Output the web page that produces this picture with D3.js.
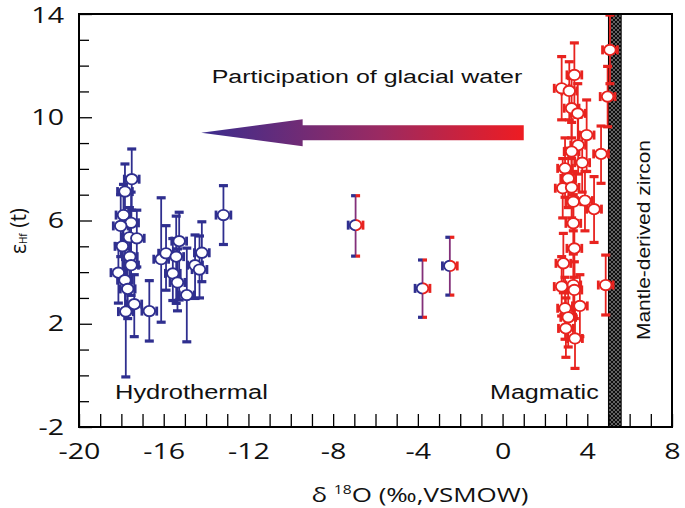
<!DOCTYPE html>
<html><head><meta charset="utf-8">
<script src="https://cdn.jsdelivr.net/npm/d3@7"></script>
<style>body{margin:0;background:#fff}</style>
</head><body>
<svg id="chart" width="685" height="508"></svg>
<script>
// ---- data: [δ18O, εHf(t), εHf low, εHf high]
const hydrothermal = [
  [-17.51, 7.60, 6.40, 8.77], [-17.83, 7.12, 6.00, 8.19], [-17.90, 6.21, 5.00, 7.40],
  [-17.54, 5.91, 4.70, 7.10], [-18.03, 5.79, 4.60, 7.00], [-17.62, 5.35, 4.20, 6.50],
  [-17.27, 5.31, 4.20, 6.40], [-17.95, 5.00, 3.80, 6.20], [-17.60, 4.60, 3.40, 5.80],
  [-17.54, 4.27, 3.10, 5.40], [-18.14, 3.98, 2.80, 5.10], [-17.83, 3.69, 2.50, 4.90],
  [-17.70, 3.35, 2.20, 4.50], [-17.39, 2.76, 1.50, 3.90], [-17.79, 2.47, -0.06, 3.70],
  [-16.68, 2.49, 1.33, 3.67], [-16.12, 4.50, 2.06, 6.88], [-15.89, 4.73, 3.30, 5.80],
  [-15.27, 5.20, 2.92, 6.32], [-15.41, 4.60, 2.79, 6.17], [-15.57, 3.95, 2.90, 5.30],
  [-15.35, 3.60, 2.50, 4.90], [-14.91, 3.11, 1.30, 4.93], [-14.52, 4.27, 2.98, 5.44],
  [-14.31, 4.10, 3.00, 5.40], [-14.20, 4.75, 3.63, 5.95], [-13.18, 6.21, 5.07, 7.35]
];
const transitional = [
  [-6.94, 5.82, 4.62, 6.96], [-3.78, 3.37, 2.25, 4.47], [-2.49, 4.24, 3.11, 5.35]
];
const magmatic = [
  [5.07, 12.61, 11.30, 13.96], [4.96, 10.80, 9.63, 11.97], [3.39, 11.64, 10.40, 12.88],
  [2.79, 11.12, 9.90, 12.35], [3.15, 11.02, 9.90, 12.15], [3.26, 10.35, 9.20, 11.50],
  [3.55, 10.15, 9.00, 11.30], [3.97, 9.31, 7.90, 10.67], [4.65, 8.58, 7.44, 9.66],
  [3.57, 8.92, 7.80, 10.00], [3.26, 8.67, 7.50, 9.80], [3.76, 8.24, 7.10, 9.40],
  [2.95, 8.02, 6.90, 9.20], [3.10, 7.63, 6.50, 8.80], [2.84, 7.25, 6.10, 8.40],
  [3.26, 7.28, 6.10, 8.40], [3.34, 6.73, 5.60, 7.90], [3.89, 6.77, 5.60, 7.90],
  [4.32, 6.44, 5.15, 7.70], [3.34, 5.89, 4.80, 7.00], [3.39, 4.92, 3.80, 6.00],
  [2.87, 4.34, 3.20, 5.50], [4.87, 3.50, 2.34, 4.66], [2.79, 3.44, 2.30, 4.60],
  [3.34, 3.50, 2.30, 4.70], [3.39, 3.31, 2.20, 4.40], [3.65, 2.69, 1.50, 3.90],
  [2.95, 2.60, 1.40, 3.80], [3.10, 2.25, 1.10, 3.40], [2.99, 1.82, 0.70, 3.00],
  [3.42, 1.43, 0.27, 2.60]
];
const xErr = 0.35;
const mantleBand = [5.0, 5.6];
const arrowX = [-14.23, -9.44, 1.0];   // tip, head base, tail
const arrowY = 9.4;
const xDomain = [-20, 8], yDomain = [-2, 14];
const xTickValues = [-20,-19,-18,-17,-16,-15,-14,-13,-12,-11,-10,-9,-8,-7,-6,-5,-4,-3,-2,-1,0,1,2,3,4,5,6,7,8];
const xTickLabels = [-20,-16,-12,-8,-4,0,4,8];
const yTickValues = [-2,-1,0,1,2,3,4,5,6,7,8,9,10,11,12,13,14];
const yTickLabels = [-2,2,6,10,14];

const BLUE = "#2f2f8f", RED = "#e8231f", PURPLE = "#83307a";
const SX = 1.3; // horizontal stretch of the reference lettering

const svg = d3.select("#chart");
const L = 79, R = 672, T = 14, B = 427;
const x = d3.scaleLinear().domain(xDomain).range([L, R]);
const y = d3.scaleLinear().domain(yDomain).range([B, T]);

const defs = svg.append("defs");
const pat = defs.append("pattern").attr("id","hatch").attr("patternUnits","userSpaceOnUse")
  .attr("width",4).attr("height",4);
pat.append("rect").attr("width",4).attr("height",4).attr("fill","#0d0d0d");
pat.append("path").attr("d","M0,0L4,4M4,0L0,4").attr("stroke","#9a9a9a").attr("stroke-width",0.6);

const arrGrad = defs.append("linearGradient").attr("id","arrGrad")
  .attr("gradientUnits","userSpaceOnUse")
  .attr("x1", x(arrowX[0])).attr("x2", x(arrowX[2])).attr("y1",0).attr("y2",0);
arrGrad.append("stop").attr("offset","0%").attr("stop-color","#3b2d8e");
arrGrad.append("stop").attr("offset","55%").attr("stop-color","#9a2a62");
arrGrad.append("stop").attr("offset","100%").attr("stop-color","#ee1c22");

const midGrad = defs.append("linearGradient").attr("id","midGrad")
  .attr("x1","0%").attr("x2","100%").attr("y1","0%").attr("y2","0%");
midGrad.append("stop").attr("offset","0%").attr("stop-color",BLUE);
midGrad.append("stop").attr("offset","45%").attr("stop-color",BLUE);
midGrad.append("stop").attr("offset","55%").attr("stop-color",RED);
midGrad.append("stop").attr("offset","100%").attr("stop-color",RED);

// mantle band
svg.append("rect").attr("x", x(mantleBand[0])).attr("y", T)
  .attr("width", x(mantleBand[1]) - x(mantleBand[0])).attr("height", B - T)
  .attr("fill","url(#hatch)").attr("stroke","#000").attr("stroke-width",1);

// arrow
const hh = 13.5, sh = 7.5, ay = y(arrowY);
svg.append("path").attr("d",
  `M${x(arrowX[0])},${ay}L${x(arrowX[1])},${ay-hh}L${x(arrowX[1])},${ay-sh}L${x(arrowX[2])},${ay-sh}` +
  `L${x(arrowX[2])},${ay+sh}L${x(arrowX[1])},${ay+sh}L${x(arrowX[1])},${ay+hh}Z`)
  .attr("fill","url(#arrGrad)");

// error bars + markers
function drawGroup(data, col, opts) {
  const g = svg.append("g");
  const lineCol = opts.line || col;
  const capFill = opts.cap || col;
  const leftCap = opts.left || col, rightCap = opts.right || col;
  const pts = g.selectAll("g.pt").data(data).join("g");
  pts.append("line").attr("x1", d => x(d[0])).attr("x2", d => x(d[0]))
    .attr("y1", d => y(d[2])).attr("y2", d => y(d[3]))
    .attr("stroke", lineCol).attr("stroke-width", 1.8);
  pts.append("line").attr("x1", d => x(d[0]-xErr)).attr("x2", d => x(d[0]+xErr))
    .attr("y1", d => y(d[1])).attr("y2", d => y(d[1]))
    .attr("stroke", lineCol).attr("stroke-width", 1.6);
  [2,3].forEach(k => {
    pts.append("rect").attr("x", d => x(d[0]) - 4.5).attr("y", d => y(d[k]) - 1.6)
      .attr("width", 9).attr("height", 3.2).attr("fill", capFill);
  });
  pts.append("rect").attr("x", d => x(d[0]-xErr) - 1.4).attr("y", d => y(d[1]) - 4.5)
    .attr("width", 2.8).attr("height", 9).attr("fill", leftCap);
  pts.append("rect").attr("x", d => x(d[0]+xErr) - 1.4).attr("y", d => y(d[1]) - 4.5)
    .attr("width", 2.8).attr("height", 9).attr("fill", rightCap);
  g.selectAll("ellipse").data(data).join("ellipse")
    .attr("cx", d => x(d[0])).attr("cy", d => y(d[1]))
    .attr("rx", 5.8).attr("ry", 5.2).attr("fill","#fff")
    .attr("stroke", opts.marker || col).attr("stroke-width", 1.9);
}
drawGroup(hydrothermal, BLUE, {});
drawGroup(transitional, PURPLE, {line: PURPLE, cap: "url(#midGrad)", left: BLUE, right: RED, marker: "url(#midGrad)"});
drawGroup(magmatic, RED, {});

// axes
function stretch(sel, sx) {
  sel.each(function() {
    const t = d3.select(this);
    const ox = +t.attr("x") || 0;
    t.attr("x", ox / sx).attr("transform", `scale(${sx},1)`);
  });
}
const fontAxis = "'Open Sans', 'Noto Sans', sans-serif";
const gx = svg.append("g").attr("transform", `translate(0,${B})`)
  .call(d3.axisBottom(x).tickValues(xTickValues).tickSize(-13).tickPadding(16)
    .tickFormat(d => xTickLabels.includes(d) ? String(d) : ""));
const gy = svg.append("g").attr("transform", `translate(${L},0)`)
  .call(d3.axisLeft(y).tickValues(yTickValues).tickSize(-10).tickPadding(15)
    .tickFormat(d => yTickLabels.includes(d) ? String(d) : ""));
gy.selectAll(".tick line").filter(d => yTickLabels.includes(d)).attr("x2", 13);
[gx, gy].forEach(g => {
  g.select(".domain").remove();
  g.selectAll(".tick line").attr("stroke","#000").attr("stroke-width",1.3);
  g.selectAll("text").attr("font-family", fontAxis).attr("font-size", 22).attr("fill","#111");
  stretch(g.selectAll("text"), SX);
});
gy.selectAll(".tick text").filter(d => d === yDomain[1]).attr("dy", "0.40em");

// frame
svg.append("rect").attr("x", L).attr("y", T).attr("width", R - L).attr("height", B - T)
  .attr("fill","none").attr("stroke","#000").attr("stroke-width",2);

// axis titles
const xt = svg.append("text").attr("transform", `translate(420,502) scale(${SX},1)`)
  .attr("text-anchor","middle").attr("font-family", fontAxis).attr("font-size", 20).attr("fill","#111");
xt.append("tspan").text("δ ");
xt.append("tspan").attr("font-size", 12).attr("dy", -8).text("18");
xt.append("tspan").attr("dy", 8).text("O (‰,VSMOW)");

const yt = svg.append("text").attr("transform", `translate(26,231) rotate(-90)`)
  .attr("text-anchor","middle").attr("font-family", fontAxis).attr("font-size", 21).attr("fill","#111");
yt.append("tspan").text("ε");
yt.append("tspan").attr("font-size", 10).attr("dy", 1).text("Hf");
yt.append("tspan").attr("dy", -1).text(" (t)");

// annotations
const fontAnn = "'Liberation Sans', Arial, sans-serif";
svg.append("text").attr("transform", `translate(367,83) scale(${SX},1)`)
  .attr("text-anchor","middle").attr("font-family", fontAnn).attr("font-size", 19.2).attr("fill","#111")
  .text("Participation of glacial water");
svg.append("text").attr("transform", `translate(115,399) scale(${SX},1)`)
  .attr("font-family", fontAnn).attr("font-size", 19.6).attr("fill","#111").text("Hydrothermal");
svg.append("text").attr("transform", `translate(490,399) scale(${SX},1)`)
  .attr("font-family", fontAnn).attr("font-size", 19.3).attr("fill","#111").text("Magmatic");
svg.append("text").attr("transform", `translate(650,240) rotate(-90)`)
  .attr("text-anchor","middle").attr("font-family", fontAnn).attr("font-size", 18.6).attr("fill","#111")
  .attr("textLength", 200).attr("lengthAdjust","spacingAndGlyphs")
  .text("Mantle-derived zircon");
</script>
</body></html>
